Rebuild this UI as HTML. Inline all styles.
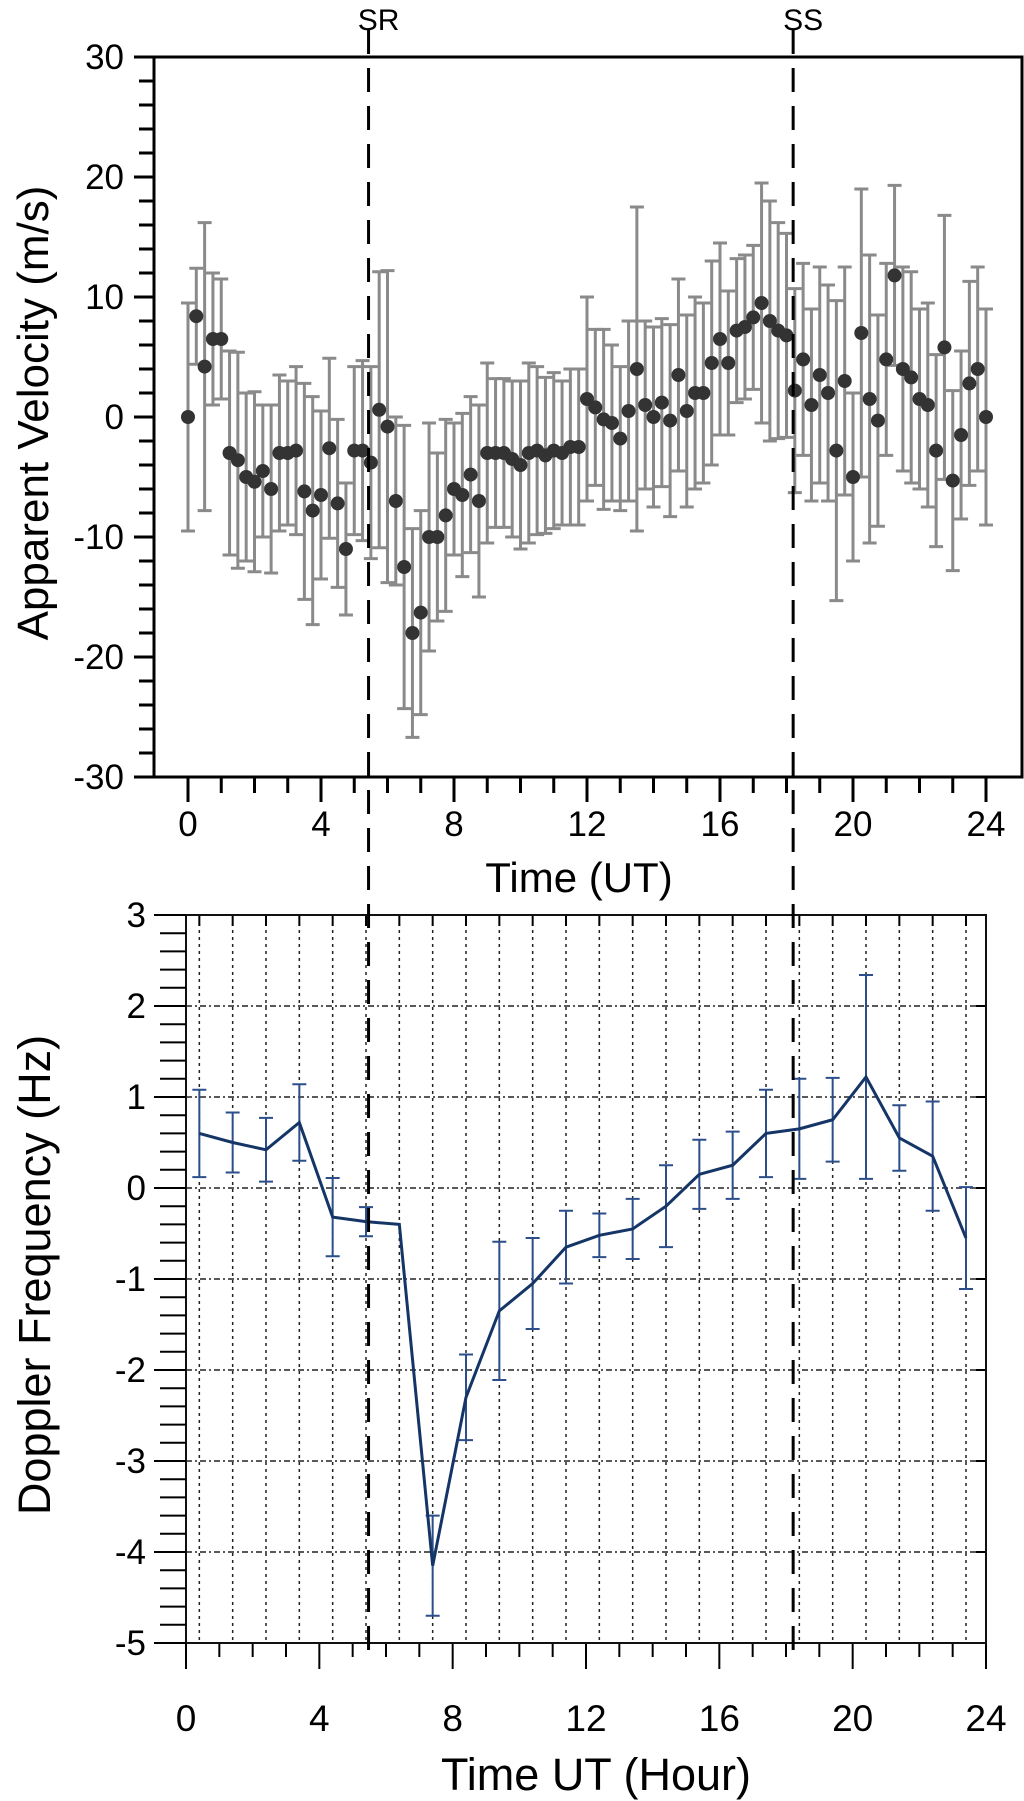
<!DOCTYPE html>
<html><head><meta charset="utf-8"><style>
html,body{margin:0;padding:0;background:#fff;}
svg{display:block;font-family:"Liberation Sans",Arial,sans-serif;}
</style></head><body>
<svg id="fig" width="1024" height="1801" viewBox="0 0 1024 1801" xmlns="http://www.w3.org/2000/svg"></svg>
<script>
// ---- Top chart data (apparent velocity, m/s) ----
const topTimes = [0,0.25,0.5,0.75,1,1.25,1.5,1.75,2,2.25,2.5,2.75,3,3.25,3.5,3.75,4,4.25,4.5,4.75,5,5.25,5.5,5.75,6,6.25,6.5,6.75,7,7.25,7.5,7.75,8,8.25,8.5,8.75,9,9.25,9.5,9.75,10,10.25,10.5,10.75,11,11.25,11.5,11.75,12,12.25,12.5,12.75,13,13.25,13.5,13.75,14,14.25,14.5,14.75,15,15.25,15.5,15.75,16,16.25,16.5,16.75,17,17.25,17.5,17.75,18,18.25,18.5,18.75,19,19.25,19.5,19.75,20,20.25,20.5,20.75,21,21.25,21.5,21.75,22,22.25,22.5,22.75,23,23.25,23.5,23.75,24];
const topValues = [0,8.4,4.2,6.5,6.5,-3,-3.6,-5,-5.4,-4.5,-6,-3,-3,-2.8,-6.2,-7.8,-6.5,-2.6,-7.2,-11,-2.8,-2.8,-3.8,0.6,-0.8,-7,-12.5,-18,-16.3,-10,-10,-8.2,-6,-6.5,-4.8,-7,-3,-3,-3,-3.5,-4,-3,-2.8,-3.2,-2.8,-3,-2.5,-2.5,1.5,0.8,-0.2,-0.5,-1.8,0.5,4,1,0,1.2,-0.3,3.5,0.5,2,2,4.5,6.5,4.5,7.2,7.5,8.3,9.5,8,7.2,6.8,2.2,4.8,1,3.5,2,-2.8,3,-5,7,1.5,-0.3,4.8,11.8,4,3.3,1.5,1,-2.8,5.8,-5.3,-1.5,2.8,4,0];
const topErrors = [9.5,4,12,5.5,5,8.5,9,7,7.5,5.5,7,6.5,6,7,9,9.5,7,7.5,7,5.5,7,7.5,8,11.5,13,7,11.8,8.7,8.5,9.5,7,8,5.5,6.8,6.5,8,7.5,6.2,6.2,6.5,7,7.5,7,6.5,6.5,6,6.5,6.5,8.5,6.5,7.5,6.5,6,7.5,13.5,7,7.5,7,8,8,8,8,7.5,8.5,8,6,6,6,6,10,10,9,8.5,8.5,8,8,9,9,12.5,9.5,7,12,12,8.8,8,7.5,8.5,8.8,7.5,8.5,8,11,7.5,7,8.5,8.5,9];
const topYTicks = [30,20,10,0,-10,-20,-30];
const topXTicks = [0,4,8,12,16,20,24];
// ---- Bottom chart data (Doppler frequency, Hz) ----
const botTimes = [0.4,1.4,2.4,3.4,4.4,5.4,6.4,7.4,8.4,9.4,10.4,11.4,12.4,13.4,14.4,15.4,16.4,17.4,18.4,19.4,20.4,21.4,22.4,23.4];
const botValues = [0.6,0.5,0.42,0.72,-0.32,-0.37,-0.4,-4.15,-2.3,-1.35,-1.05,-0.65,-0.52,-0.45,-0.2,0.15,0.25,0.6,0.65,0.75,1.22,0.55,0.35,-0.55];
const botErrors = [0.48,0.33,0.35,0.42,0.43,0.16,0,0.55,0.47,0.76,0.5,0.4,0.24,0.33,0.45,0.38,0.37,0.48,0.55,0.46,1.12,0.36,0.6,0.56];
const botYTicks = [3,2,1,0,-1,-2,-3,-4,-5];
const botXTicks = [0,4,8,12,16,20,24];
const eventTimes = [5.43,18.2];
const eventLabels = ["SR","SS"];

const NS="http://www.w3.org/2000/svg";
const svg=document.getElementById('fig');
function mk(tag,attrs,parent){const e=document.createElementNS(NS,tag);for(const k in attrs)e.setAttribute(k,attrs[k]);(parent||svg).appendChild(e);return e;}

const tx=t=>188+t*(986-188)/24;
const ty=v=>417-v*12;
const bx=t=>186+t*(986-186)/24;
const by=v=>1188-v*91;

// ---------- TOP CHART ----------
const gTop=mk('g',{});


const frame=mk('path',{d:`M154 57 H1022 V777 H154 Z`,fill:'none',stroke:'#000','stroke-width':3},gTop);


mk('line',{x1:134,y1:777,x2:154,y2:777,stroke:'#000','stroke-width':3},gTop);
mk('line',{x1:134,y1:57,x2:154,y2:57,stroke:'#000','stroke-width':3},gTop);
for(let v=-30;v<=30;v+=2){const big=v%10===0;mk('line',{x1:big?134:139,y1:ty(v),x2:154,y2:ty(v),stroke:'#000','stroke-width':3},gTop);}
for(const v of topYTicks){const t=mk('text',{x:124,y:ty(v)+12,'text-anchor':'end','font-size':35},gTop);t.textContent=v;

}
for(let h=0;h<=24;h++){const big=h%4===0;mk('line',{x1:tx(h),y1:777,x2:tx(h),y2:big?802:793,stroke:'#000','stroke-width':3},gTop);}
for(const h of topXTicks){const t=mk('text',{x:tx(h),y:836,'text-anchor':'middle','font-size':35},gTop);t.textContent=h;

}
let tt=mk('text',{x:579,y:892,'text-anchor':'middle','font-size':42},gTop);tt.textContent='Time (UT)';


tt=mk('text',{x:0,y:0,'text-anchor':'middle','font-size':44,transform:'translate(48,413) rotate(-90)'},gTop);tt.textContent='Apparent Velocity (m/s)';


for(let i=0;i<topTimes.length;i++){const x=tx(topTimes[i]),hi=ty(topValues[i]+topErrors[i]),lo=ty(topValues[i]-topErrors[i]);
const e=mk('path',{d:`M${x} ${hi}V${lo}M${x-7} ${hi}H${x+7}M${x-7} ${lo}H${x+7}`,stroke:'#8a8a8a','stroke-width':3,fill:'none'},gTop);

}
for(let i=0;i<topTimes.length;i++){const c=mk('circle',{cx:tx(topTimes[i]),cy:ty(topValues[i]),r:7,fill:'#333'},gTop);

}

// ---------- BOTTOM CHART ----------
const gB=mk('g',{});


for(let k=0;k<24;k++){const x=bx(k+0.4);const g=mk('line',{x1:x,y1:916,x2:x,y2:1644,stroke:'#222','stroke-width':1.5,'stroke-dasharray':'3 4'},gB);


mk('line',{x1:x,y1:916,x2:x,y2:926,stroke:'#000','stroke-width':2},gB);}
for(const v of botYTicks){if(v===3||v===-5)continue;const g=mk('line',{x1:186,y1:by(v),x2:986,y2:by(v),stroke:'#222','stroke-width':1.5,'stroke-dasharray':'6 3 2 3'},gB);


mk('line',{x1:976,y1:by(v),x2:986,y2:by(v),stroke:'#000','stroke-width':2},gB);}
const bf=mk('rect',{x:186,y:by(3),width:800,height:by(-5)-by(3),fill:'none',stroke:'#111','stroke-width':2},gB);


for(let i=0;i<=40;i++){const v=3-i*0.2;const big=Math.abs(v-Math.round(v))<1e-6;mk('line',{x1:big?154:160,y1:by(v),x2:186,y2:by(v),stroke:'#000','stroke-width':2},gB);}
for(const v of botYTicks){const t=mk('text',{x:146,y:by(v)+12,'text-anchor':'end','font-size':35},gB);t.textContent=v;

}
for(let h=0;h<=24;h++){const big=h%4===0;mk('line',{x1:bx(h),y1:1644,x2:bx(h),y2:big?1669:1657,stroke:'#000','stroke-width':2},gB);}
for(const h of botXTicks){const t=mk('text',{x:bx(h),y:1731,'text-anchor':'middle','font-size':37},gB);t.textContent=h;

}
tt=mk('text',{x:596,y:1790,'text-anchor':'middle','font-size':45},gB);tt.textContent='Time UT (Hour)';


tt=mk('text',{x:0,y:0,'text-anchor':'middle','font-size':45,transform:'translate(50,1275) rotate(-90)'},gB);tt.textContent='Doppler Frequency (Hz)';


for(let i=0;i<botTimes.length;i++){if(!botErrors[i])continue;const x=bx(botTimes[i]),hi=by(botValues[i]+botErrors[i]),lo=by(botValues[i]-botErrors[i]);
const e=mk('path',{d:`M${x} ${hi}V${lo}M${x-7} ${hi}H${x+7}M${x-7} ${lo}H${x+7}`,stroke:'#2c4f8c','stroke-width':2,fill:'none'},gB);

}
const pl=mk('polyline',{points:botTimes.map((t,i)=>bx(t)+','+by(botValues[i])).join(' '),fill:'none',stroke:'#143566','stroke-width':3},gB);



// ---------- event lines ----------
for(let i=0;i<eventTimes.length;i++){const x=tx(eventTimes[i]);
const l=mk('line',{x1:x,y1:30,x2:x,y2:1650,stroke:'#000','stroke-width':3,'stroke-dasharray':'24 14'});


const t=mk('text',{x:x+10,y:30,'text-anchor':'middle','font-size':30});t.textContent=eventLabels[i];

}
</script>
</body></html>
